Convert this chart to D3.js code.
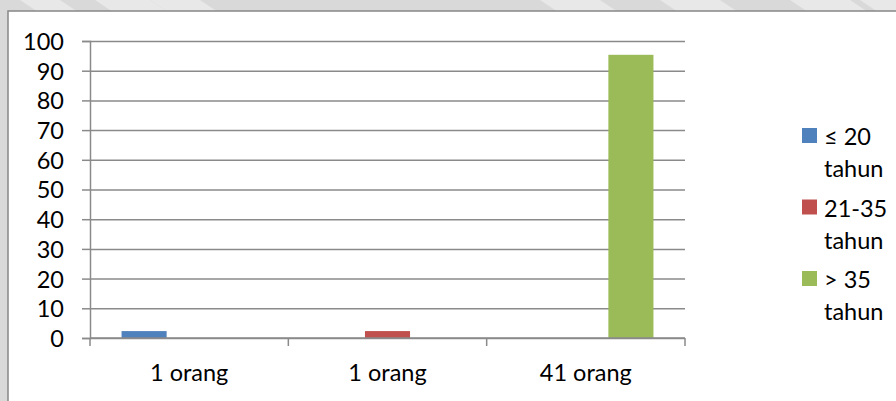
<!DOCTYPE html>
<html>
<head>
<meta charset="utf-8">
<script src="https://cdn.jsdelivr.net/npm/d3@7"></script>
<style>
  html, body { margin: 0; padding: 0; background: #d9d9d9; }
  svg { display: block; }
  text { font-family: Lato, "Open Sans", sans-serif; fill: #000; }
</style>
</head>
<body>
<svg id="chart" width="896" height="401"></svg>
<script>
// Age groups of respondents (percent), one series per age group
const categories = ["1 orang", "1 orang", "41 orang"];
const seriesNames = ["≤ 20 tahun", "21-35 tahun", "> 35 tahun"];
const legendLines = [["≤ 20", "tahun"], ["21-35", "tahun"], ["> 35", "tahun"]];
const seriesColors = ["#4f81bd", "#c0504d", "#9bbb59"];
const valuesLe20 = [2.33, 0, 0];
const values21to35 = [0, 2.33, 0];
const valuesGt35 = [0, 0, 95.35];
const yTicks = [0, 10, 20, 30, 40, 50, 60, 70, 80, 90, 100];

const seriesValues = [valuesLe20, values21to35, valuesGt35];

const W = 896, H = 401;
const FS = 23.5;
const svg = d3.select("#chart");

// page backdrop with faint diagonal watermark strokes
svg.append("rect").attr("width", W).attr("height", H).attr("fill", "#d9d9d9");
const marks = [[20, 60], [95, 150], [150, 200], [540, 600], [660, 720], [790, 850], [860, 900]];
svg.append("g").selectAll("path").data(marks).join("path")
  .attr("d", d => `M${d[0]},0 L${d[1]},0 L${d[1] + 18},12 L${d[0] + 18},12 Z`)
  .attr("fill", "#e8e8e8");

// chart area
const frame = { x: 8, y: 11 };
svg.append("rect")
  .attr("x", frame.x).attr("y", frame.y)
  .attr("width", W - frame.x + 10).attr("height", H - frame.y + 10)
  .attr("fill", "#fff").attr("stroke", "#878787").attr("stroke-width", 1.5);

const plot = { left: 90, right: 685, top: 41, bottom: 338 };

const x = d3.scaleBand()
  .domain(d3.range(categories.length))
  .range([plot.left, plot.right])
  .paddingInner(0).paddingOuter(0);

const xSub = d3.scaleBand()
  .domain(d3.range(seriesNames.length))
  .range([0, x.bandwidth()])
  .paddingInner(0).paddingOuter(0.7);

const y = d3.scaleLinear().domain([0, 100]).range([plot.bottom, plot.top]);

const gridColor = "#8a8a8a";

// horizontal gridlines
svg.append("g")
  .attr("transform", `translate(${plot.left},0)`)
  .call(d3.axisLeft(y).tickValues(yTicks).tickSize(-(plot.right - plot.left)).tickFormat(""))
  .call(g => g.select(".domain").remove())
  .call(g => g.selectAll("line").attr("stroke", gridColor).attr("stroke-width", 1.5));

// bars
const barData = [];
seriesValues.forEach((vals, s) => vals.forEach((v, c) => barData.push({ s, c, v })));
svg.append("g").selectAll("rect").data(barData.filter(d => d.v > 0)).join("rect")
  .attr("x", d => x(d.c) + xSub(d.s))
  .attr("width", xSub.bandwidth())
  .attr("y", d => y(d.v))
  .attr("height", d => y(0) - y(d.v))
  .attr("fill", d => seriesColors[d.s]);

// y axis
svg.append("g")
  .attr("transform", `translate(${plot.left},0)`)
  .call(d3.axisLeft(y).tickValues(yTicks).tickSize(8).tickPadding(18))
  .call(g => g.select(".domain").attr("stroke", gridColor).attr("stroke-width", 1.5))
  .call(g => g.selectAll(".tick line").attr("stroke", gridColor).attr("stroke-width", 1.5))
  .call(g => g.selectAll("text").attr("font-size", FS).attr("font-family", "Lato").attr("fill", "#000").attr("dy", "0.36em"));

// x axis line, category boundary ticks and labels
const xAxis = svg.append("g").attr("transform", `translate(0,${plot.bottom})`);
xAxis.append("line")
  .attr("x1", plot.left).attr("x2", plot.right)
  .attr("stroke", gridColor).attr("stroke-width", 1.5);
const bounds = d3.range(categories.length).map(i => x(i)).concat([x(categories.length - 1) + x.bandwidth()]);
xAxis.selectAll("line.bt").data(bounds).join("line").attr("class", "bt")
  .attr("x1", d => d).attr("x2", d => d).attr("y1", 0).attr("y2", 8)
  .attr("stroke", gridColor).attr("stroke-width", 1.5);
xAxis.selectAll("text").data(categories).join("text")
  .attr("x", (d, i) => x(i) + x.bandwidth() / 2)
  .attr("y", 43)
  .attr("text-anchor", "middle")
  .attr("font-size", FS)
  .text(d => d);

// legend
const legend = svg.append("g").attr("transform", "translate(802,128)");
const item = legend.selectAll("g").data(seriesNames).join("g")
  .attr("transform", (d, i) => `translate(0,${i * 71.5})`);
item.append("rect").attr("width", 15).attr("height", 15)
  .attr("fill", (d, i) => seriesColors[i]);
item.append("text")
  .attr("x", 22).attr("y", 17)
  .attr("font-size", FS)
  .selectAll("tspan").data((d, i) => legendLines[i]).join("tspan")
  .attr("x", 22).attr("dy", (d, j) => j === 0 ? 0 : 32)
  .text(d => d);
</script>
</body>
</html>
